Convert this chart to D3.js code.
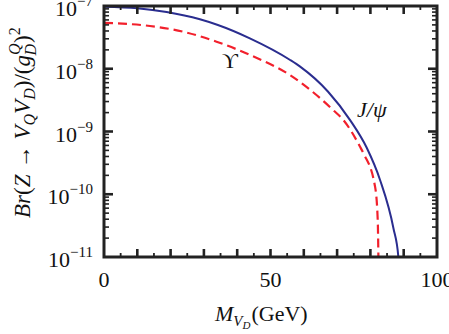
<!DOCTYPE html>
<html><head><meta charset="utf-8">
<script src="https://cdn.jsdelivr.net/npm/d3@7"></script>
<style>body{margin:0;background:#fff}svg{display:block}</style>
</head><body><svg id="c" width="449" height="334"></svg>
<script>
// J/psi curve (blue, solid)
const jpsiMass = [0, 10, 18.8, 28.8, 34.2, 43.8, 55.9, 58.9, 67.3, 73.9, 78.9, 82.9, 86.9, 88.4, 88.6];
const jpsiBr   = [9.75e-8, 9.2e-8, 8.02e-8, 6.14e-8, 4.98e-8, 3.05e-8, 1.38e-8, 1.08e-8, 4.3e-9, 1.52e-9, 5.5e-10, 1.69e-10, 2.9e-11, 1.0e-11, 6e-12];
// Upsilon curve (red, dashed)
const upsMass = [0, 13.8, 23.7, 33.8, 43.8, 55.9, 64.9, 68.8, 71.9, 76.9, 77.9, 81.4, 82.2, 82.4, 82.45];
const upsBr   = [5.4e-8, 4.8e-8, 3.9e-8, 2.7e-8, 1.66e-8, 7.9e-9, 3.4e-9, 2.2e-9, 1.52e-9, 5.7e-10, 4.5e-10, 1.32e-10, 3.9e-11, 1.0e-11, 6e-12];
const xTickLabels = [0, 50, 100];
const yTickExponents = [-7, -8, -9, -10, -11];
const curveLabels = ["J/ψ", "ϒ"];

const svg = d3.select("#c");
const L = 104, R = 437, T = 6, B = 257;
const x = d3.scaleLinear().domain([0, 100]).range([L, R]);
const y = d3.scaleLog().domain([1e-11, 1e-7]).range([B, T]);
const ink = "#222";
const serif = "'Liberation Serif','DejaVu Serif',serif";

svg.append("defs").append("clipPath").attr("id", "pc")
  .append("rect").attr("x", L).attr("y", T).attr("width", R - L).attr("height", B - T);

const line = d3.line().x(d => x(d[0])).y(d => y(d[1])).curve(d3.curveMonotoneX);
const g = svg.append("g").attr("clip-path", "url(#pc)");
g.append("path").datum(upsMass.map((m, i) => [m, upsBr[i]]))
  .attr("d", line).attr("fill", "none").attr("stroke", "#f2202c")
  .attr("stroke-width", 2.2).attr("stroke-dasharray", "9,5");
g.append("path").datum(jpsiMass.map((m, i) => [m, jpsiBr[i]]))
  .attr("d", line).attr("fill", "none").attr("stroke", "#2a2d8f")
  .attr("stroke-width", 2);

// ticks
const xt = d3.range(5, 100, 5);
xt.forEach(v => {
  const major = v % 10 === 0;
  const len = major ? 8 : 4, w = major ? 2.6 : 1.8;
  [[B, -1], [T, 1]].forEach(([y0, s]) => {
    svg.append("line").attr("x1", x(v)).attr("x2", x(v)).attr("y1", y0).attr("y2", y0 + s * len)
      .attr("stroke", ink).attr("stroke-width", w);
  });
});
const yt = [];
for (let e = -11; e < -7; e++) for (let k = 1; k <= 9; k++) yt.push([k * Math.pow(10, e), k === 1]);
yt.forEach(([v, major]) => {
  if (v <= 1e-11 * 1.0001) return;
  const len = major ? 9 : 5, w = major ? 2.6 : 1.6;
  [[L, 1], [R, -1]].forEach(([x0, s]) => {
    svg.append("line").attr("x1", x0).attr("x2", x0 + s * len).attr("y1", y(v)).attr("y2", y(v))
      .attr("stroke", ink).attr("stroke-width", w);
  });
});

// frame
svg.append("rect").attr("x", L).attr("y", T).attr("width", R - L).attr("height", B - T)
  .attr("fill", "none").attr("stroke", ink).attr("stroke-width", 3);

// x tick labels
xTickLabels.forEach(v => {
  svg.append("text").attr("x", x(v)).attr("y", 287).attr("text-anchor", "middle")
    .attr("font-family", serif).attr("font-size", 22).attr("fill", "#111").text(v);
});
// y tick labels
yTickExponents.forEach(e => {
  const t = svg.append("text").attr("x", 93).attr("y", y(Math.pow(10, e)) + 10)
    .attr("text-anchor", "end").attr("font-family", serif).attr("font-size", 22).attr("fill", "#111");
  t.append("tspan").text("10");
  t.append("tspan").attr("font-size", 15).attr("dy", -10).text("−" + (-e));
});

// x title
{
  const t = svg.append("text").attr("x", 215).attr("y", 321).attr("font-family", serif)
    .attr("font-size", 22).attr("fill", "#111");
  t.append("tspan").attr("font-style", "italic").text("M");
  t.append("tspan").attr("font-style", "italic").attr("font-size", 15).attr("dy", 5).text("V");
  t.append("tspan").attr("font-style", "italic").attr("font-size", 11).attr("dy", 3).text("D");
  t.append("tspan").attr("dy", -8).attr("dx", 1).text("(GeV)");
}
// y title
{
  const t = svg.append("text").attr("transform", "translate(30,218) rotate(-90)")
    .attr("font-family", serif).attr("font-size", 23).attr("fill", "#111");
  t.append("tspan").attr("font-style", "italic").text("Br");
  t.append("tspan").text("(");
  t.append("tspan").attr("font-style", "italic").text("Z");
  t.append("tspan").attr("dx", 6).text("→");
  t.append("tspan").attr("font-style", "italic").attr("dx", 6).text("V");
  t.append("tspan").attr("font-style", "italic").attr("font-size", 16).attr("dy", 5).text("Q");
  t.append("tspan").attr("font-style", "italic").attr("dy", -5).text("V");
  t.append("tspan").attr("font-style", "italic").attr("font-size", 16).attr("dy", 5).text("D");
  t.append("tspan").attr("dy", -5).text(")/(");
  t.append("tspan").attr("font-style", "italic").text("g");
  t.append("tspan").attr("font-style", "italic").attr("font-size", 16).attr("dy", -10).text("Q");
  t.append("tspan").attr("font-style", "italic").attr("font-size", 16).attr("dy", 16).attr("dx", -12).text("D");
  t.append("tspan").attr("dy", -6).attr("dx", 1).text(")");
  t.append("tspan").attr("font-size", 16).attr("dy", -10).text("2");
}

// curve labels
svg.append("text").attr("x", 357).attr("y", 117).attr("font-family", serif)
  .attr("font-size", 22).attr("font-style", "italic").attr("fill", "#111").text(curveLabels[0]);
svg.append("text").attr("x", 230).attr("y", 68).attr("text-anchor", "middle").attr("font-family", serif)
  .attr("font-size", 22).attr("fill", "#111").text(curveLabels[1]);
</script></body></html>
